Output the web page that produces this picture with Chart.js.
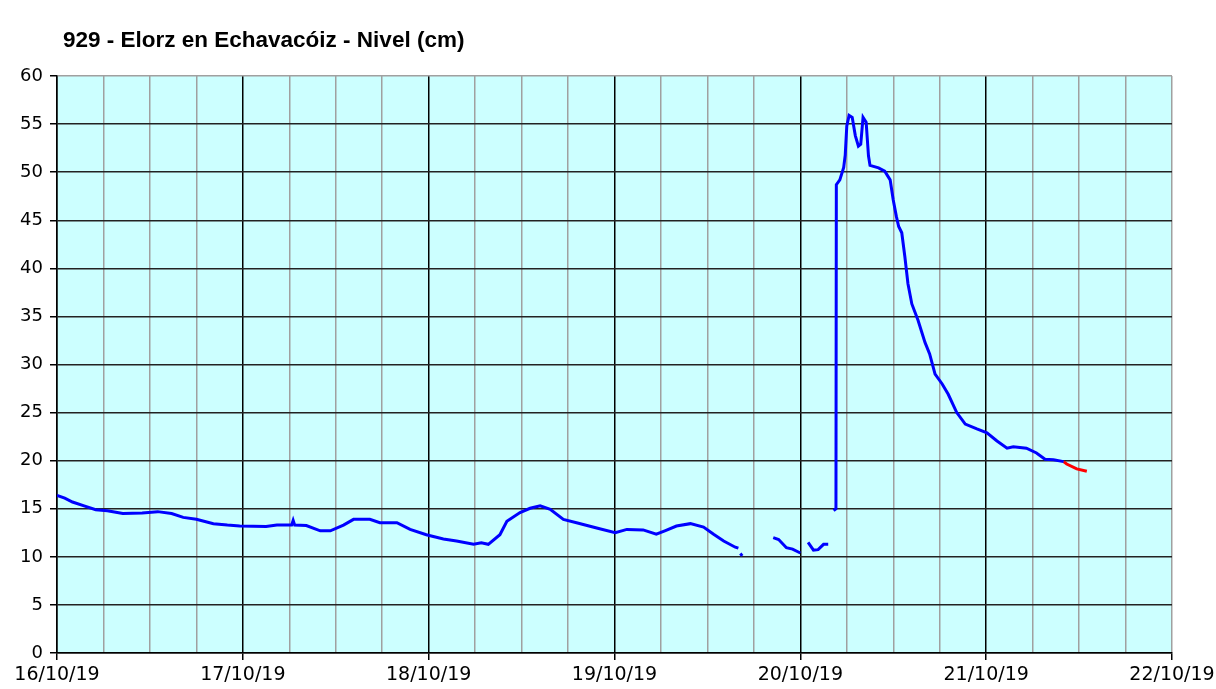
<!DOCTYPE html>
<html>
<head>
<meta charset="utf-8">
<script src="https://cdn.jsdelivr.net/npm/chart.js@4.4.1/dist/chart.umd.min.js"></script>
<style>
  body { margin: 0; background: #fff; }
  #wrap { width: 1216px; height: 689px; position: relative; }
</style>
</head>
<body>
<div id="wrap"><canvas id="nivelChart"></canvas></div>
<script>
// Nivel 929 - Elorz en Echavacóiz, horas desde el 16/10/19 00:00
const dayLabels = ['16/10/19', '17/10/19', '18/10/19', '19/10/19', '20/10/19', '21/10/19', '22/10/19'];

const blueHours = [
  0, 1, 2, 3.5, 5, 6.5, 8.5, 11, 13, 14.8, 16.3, 18, 20.2, 22, 23.6, 27, 28.4, 30.3, 30.5, 30.7,
  32.2, 34, 35.3, 37, 38.3, 40.4, 41.7, 43.9, 45.6, 47.7, 49.9, 51.6, 53.8, 54.8, 55.7, 57.2, 58.1,
  59.8, 61.1, 62.4, 63.7, 65.4, 67.1, 69.7, 72.1, 73.6, 75.7, 77.4, 78.5, 80, 81.8, 83.5, 84.8, 86.1,
  87.6, 88.0, 88.15, 88.25, 88.5, 90,
  92.5, 93.2, 94.2, 95, 96, 96.5,
  97.0, 97.7, 98.3, 99, 99.6, 100,
  100.3, 100.6, 100.65, 101.1, 101.6, 101.8, 102, 102.3, 102.7, 103.1, 103.5, 103.8, 104.1, 104.5,
  104.8, 105, 106.1, 106.9, 107.6, 108, 108.4, 108.7, 109.1, 109.5, 109.9, 110.4, 111.2, 112.1,
  112.7, 113.4, 114.3, 115.1, 116.2, 117.3, 118.8, 120.1, 121.4, 122.7, 123.5, 125.2, 126.5, 127.6,
  128.7, 130
];
const blueLevels = [
  16.4, 16.1, 15.7, 15.3, 14.9, 14.8, 14.5, 14.55, 14.7, 14.5, 14.1, 13.9, 13.45, 13.3, 13.2, 13.15, 13.3, 13.3, 13.8, 13.3,
  13.25, 12.7, 12.7, 13.3, 13.9, 13.9, 13.55, 13.55, 12.85, 12.3, 11.85, 11.65, 11.3, 11.45, 11.3, 12.3, 13.7,
  14.6, 15.05, 15.3, 14.95, 13.9, 13.55, 13.0, 12.5, 12.85, 12.8, 12.35, 12.7, 13.2, 13.45, 13.1, 12.35, 11.65,
  11.0, 10.9, null, 10.35, 10.1, null,
  12.0, 11.8, 10.95, 10.8, 10.4, null,
  11.5, 10.7, 10.75, 11.3, 11.3, null,
  14.8, 15.0, 48.7, 49.2, 50.5, 51.8, 54.8, 55.9, 55.7, 53.8, 52.7, 52.9, 55.7, 55.2,
  51.7, 50.7, 50.45, 50.1, 49.2, 47.1, 45.4, 44.35, 43.7, 41.2, 38.4, 36.3, 34.6, 32.3,
  31.1, 29.0, 28.0, 26.9, 25.0, 23.8, 23.3, 22.9, 22.05, 21.3, 21.45, 21.3, 20.8, 20.15,
  20.1, 19.9
];

const redHours = [130, 130.4, 131.7, 133];
const redLevels = [19.9, 19.65, 19.15, 18.9];

const toPoints = (xs, ys) => xs.map((h, i) => ({ x: h, y: ys[i] }));

// fondo celeste del area de grafico + titulo un poco a la derecha
const plotBg = {
  id: 'plotBg',
  afterLayout(chart) {
    if (chart.titleBlock) {
      chart.titleBlock.left += 6;
      chart.titleBlock.right += 6;
    }
  },
  beforeDraw(chart) {
    const a = chart.chartArea;
    const c = chart.ctx;
    c.save();
    c.fillStyle = '#ccffff';
    c.fillRect(a.left, a.top, a.right - a.left, a.bottom - a.top);
    c.restore();
  }
};

const ctx = document.getElementById('nivelChart').getContext('2d');

new Chart(ctx, {
  type: 'line',
  data: {
    datasets: [
      {
        label: 'Nivel',
        data: toPoints(blueHours, blueLevels),
        borderColor: '#0000ff',
        borderWidth: 3,
        pointRadius: 0,
        tension: 0,
        spanGaps: false
      },
      {
        label: 'Previsión',
        data: toPoints(redHours, redLevels),
        borderColor: '#ff0000',
        borderWidth: 3,
        pointRadius: 0,
        tension: 0
      }
    ]
  },
  options: {
    responsive: true,
    maintainAspectRatio: false,
    animation: false,
    layout: { padding: 0 },
    plugins: {
      legend: { display: false },
      tooltip: { enabled: false },
      title: {
        display: true,
        text: '929 - Elorz en Echavacóiz - Nivel (cm)',
        align: 'start',
        fullSize: false,
        color: '#000',
        font: { family: 'Liberation Sans', size: 22.5, weight: 'bold' },
        padding: { top: 27, bottom: 22 }
      }
    },
    scales: {
      x: {
        type: 'linear',
        min: 0,
        max: 144,
        afterFit: (s) => { s.height = 36; s.paddingRight = 44; },
        ticks: {
          stepSize: 6,
          autoSkip: false,
          maxRotation: 0,
          padding: 4,
          color: '#000',
          font: { family: 'DejaVu Sans', size: 19 },
          callback: (v) => (v % 24 === 0 ? dayLabels[v / 24] : '')
        },
        grid: {
          color: (c) => (c.tick && c.tick.value % 24 === 0 && c.tick.value < 144 ? '#000' : '#a0a0a0'),
          lineWidth: 1.5,
          tickLength: 7,
          tickColor: (c) => (c.tick && c.tick.value % 24 === 0 ? '#000' : 'rgba(0,0,0,0)')
        },
        border: { color: '#000', width: 1.5 }
      },
      y: {
        min: 0,
        max: 60,
        afterFit: (s) => { s.width = 57; },
        ticks: {
          stepSize: 5,
          padding: 7,
          color: '#000',
          font: { family: 'DejaVu Sans', size: 18 }
        },
        grid: {
          color: (c) => (c.tick && c.tick.value === 60 ? '#a0a0a0' : '#222'),
          lineWidth: 1.5,
          tickLength: 7,
          tickColor: '#000'
        },
        border: { color: '#000', width: 1.5 }
      }
    }
  },
  plugins: [plotBg]
});
</script>
</body>
</html>
